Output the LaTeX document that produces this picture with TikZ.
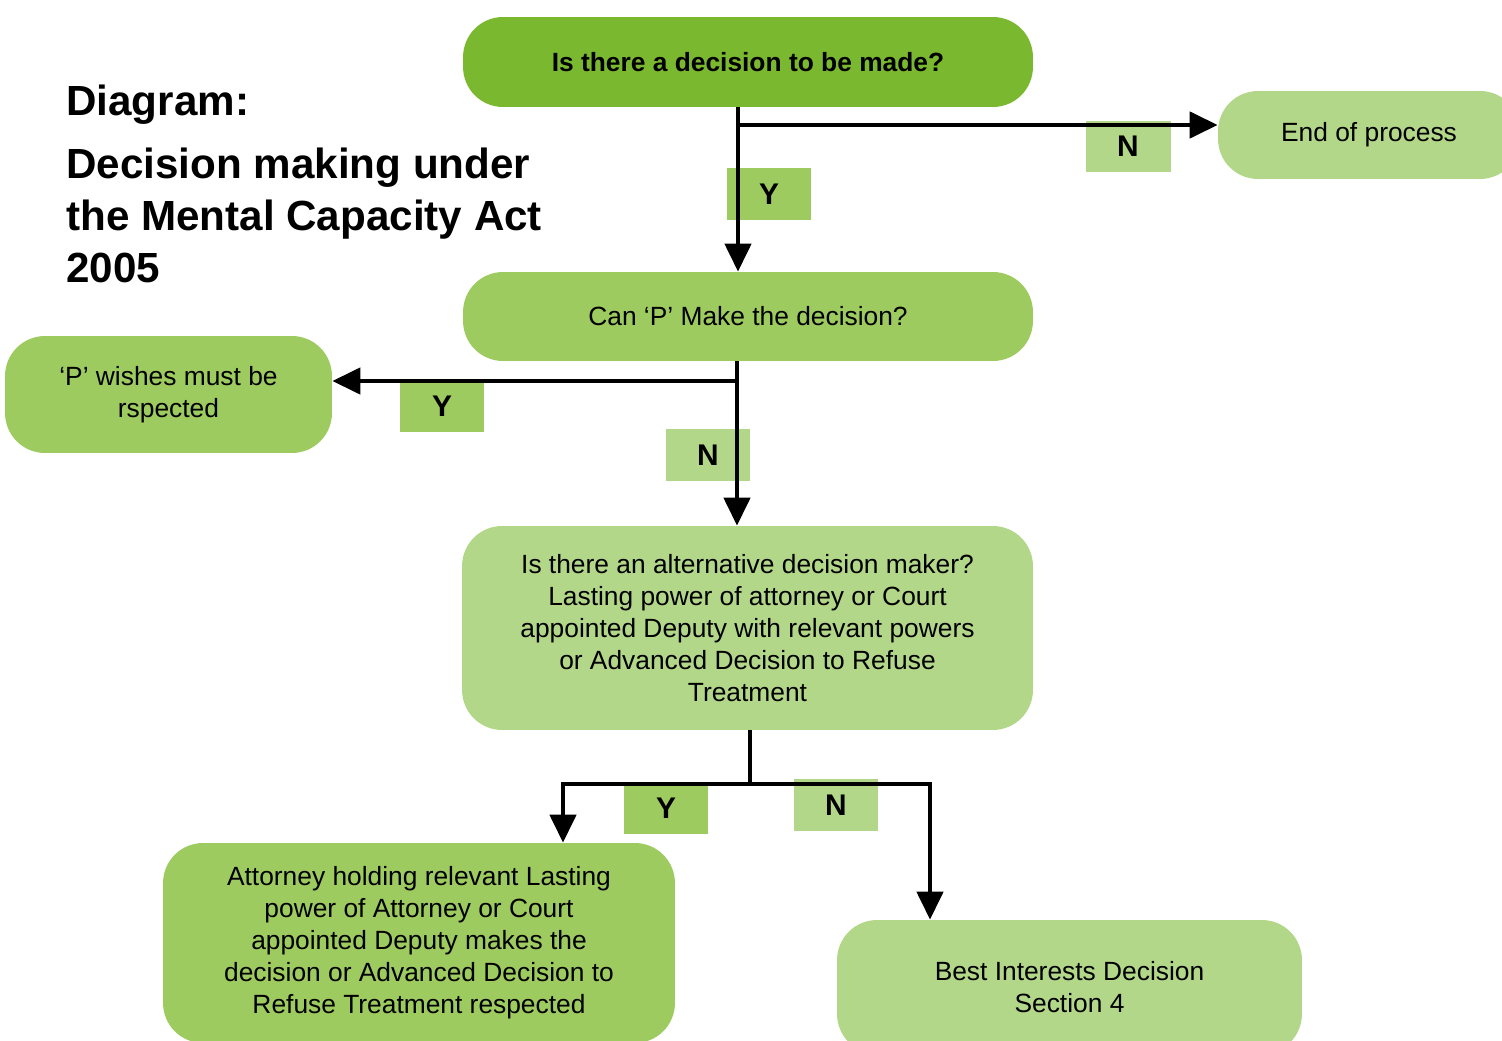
\documentclass[tikz,border=0pt]{standalone}
\usepackage{fontspec}
\setmainfont{Liberation Sans}
\usepackage{tikz}
\usetikzlibrary{arrows.meta}

\definecolor{darkgrn}{HTML}{7AB92F}
\definecolor{midgrn}{HTML}{9DCB5F}
\definecolor{lightgrn}{HTML}{B3D789}

\begin{document}
\begin{tikzpicture}[x=0.02cm, y=-0.02cm,
    box/.style={rectangle, rounded corners=0.8cm, align=center, inner sep=0pt,
        font=\fontsize{15}{18.2}\selectfont},
    yn/.style={rectangle, inner sep=0pt, minimum width=1.7cm, minimum height=1.03cm,
        font=\fontsize{17}{20}\selectfont\bfseries},
    line/.style={line width=0.09cm},
    arr/.style={line, -{Triangle[length=0.56cm, width=0.52cm]}}]
    \clip (0,0) rectangle (1502,1041);

    \node[anchor=base west, inner sep=0pt, font=\fontsize{24}{29.5}\selectfont\bfseries] (diag) at (66,115) {Diagram:};
    \node[anchor=north west, inner sep=0pt, align=left, font=\fontsize{24}{29.5}\selectfont\bfseries] (title) at (66,148)
        {Decision making under\\the Mental Capacity Act\\2005};

    \node[box, fill=darkgrn, minimum width=11.4cm, minimum height=1.8cm, font=\fontsize{15}{18.2}\selectfont\bfseries] (decide) at (748,62) {Is there a decision to be made?};
    \node[box, fill=lightgrn, minimum width=6.04cm, minimum height=1.76cm] (endproc) at (1369,135) {End of process};
    \node[box, fill=midgrn, minimum width=11.4cm, minimum height=1.78cm] (canP) at (748,316.5) {Can ‘P’ Make the decision?};
    \node[box, fill=midgrn, minimum width=6.54cm, minimum height=2.34cm] (wishes) at (168.5,394.5) {‘P’ wishes must be\\rspected};
    \node[box, fill=lightgrn, minimum width=11.42cm, minimum height=4.08cm] (altern) at (747.5,628)
        {Is there an alternative decision maker?\\Lasting power of attorney or Court\\appointed Deputy with relevant powers\\or Advanced Decision to Refuse\\Treatment};
    \node[box, fill=midgrn, minimum width=10.24cm, minimum height=4cm] (attorney) at (419,943)
        {Attorney holding relevant Lasting\\power of Attorney or Court\\appointed Deputy makes the\\decision or Advanced Decision to\\Refuse Treatment respected};
    \node[box, fill=lightgrn, minimum width=9.3cm, minimum height=2.68cm] (best) at (1069.5,987) {Best Interests Decision\\Section 4};

    \node[yn, fill=midgrn] (yA) at (769,194) {Y};
    \node[yn, fill=lightgrn] (nA) at (1128,146.5) {N};
    \node[yn, fill=midgrn] (yB) at (442,406) {Y};
    \node[yn, fill=lightgrn] (nB) at (708,455) {N};
    \node[yn, fill=midgrn] (yC) at (666,808) {Y};
    \node[yn, fill=lightgrn] (nC) at (836,805) {N};

    \coordinate (j1) at (738,125);
    \coordinate (j2) at (737,381);
    \coordinate (j3) at (750,784);
    \coordinate (jl) at (563,784);
    \coordinate (jr) at (930,784);

    \draw[arr] (decide.south -| j1) -- (canP.north -| j1);
    \draw[arr] (j1) -- (endproc.west |- j1);
    \draw[arr] (canP.south -| j2) -- (altern.north -| j2);
    \draw[arr] (j2) -- (wishes.east |- j2);
    \draw[line] (altern.south -| j3) -- (j3);
    \draw[arr] (j3) -- (jl) -- (attorney.north -| jl);
    \draw[arr] (j3) -- (jr) -- (best.north -| jr);
\end{tikzpicture}
\end{document}
